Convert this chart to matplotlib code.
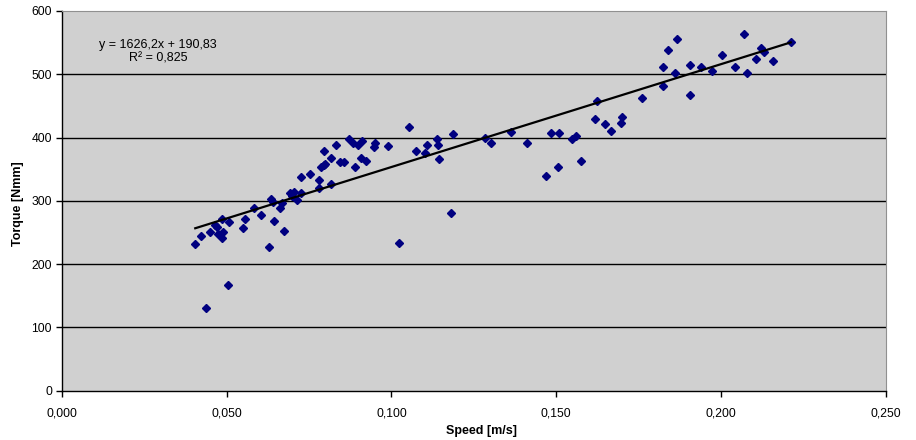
import matplotlib
matplotlib.use("Agg")
import matplotlib.pyplot as plt
from matplotlib.ticker import FuncFormatter
import numpy as np

plt.rcParams['font.family'] = ['Liberation Sans', 'DejaVu Sans']

speed = [0.0405, 0.0423, 0.0438, 0.0450, 0.0465, 0.0472, 0.0475, 0.0485, 0.0490, 0.0487,
         0.0508, 0.0505, 0.0549, 0.0557, 0.0583, 0.0603, 0.0628, 0.0634, 0.0640, 0.0645,
         0.0662, 0.0667, 0.0674, 0.0692, 0.0705, 0.0699, 0.0714, 0.0726, 0.0726, 0.0753,
         0.0781, 0.0781, 0.0817, 0.0787, 0.0795, 0.0800, 0.0797, 0.0816, 0.0844, 0.0857,
         0.0889, 0.1052, 0.0872, 0.0884, 0.0899, 0.0910, 0.0831, 0.0949, 0.0947, 0.0991,
         0.0908, 0.0923, 0.1076, 0.1102, 0.1107, 0.1137, 0.1140, 0.1145, 0.1186, 0.1182,
         0.1023, 0.1283, 0.1302, 0.1362, 0.1411, 0.1483, 0.1508, 0.1468, 0.1505, 0.1548,
         0.1561, 0.1575, 0.1617, 0.1625, 0.1647, 0.1665, 0.1699, 0.1697, 0.1759, 0.1824,
         0.1824, 0.1839, 0.1865, 0.1860, 0.1906, 0.1906, 0.1938, 0.1971, 0.2002, 0.2041,
         0.2069, 0.2077, 0.2105, 0.2122, 0.2129, 0.2158, 0.2211]
torque = [232, 244, 130, 250, 262, 258, 247, 241, 251, 271,
          266, 167, 257, 272, 288, 278, 227, 303, 298, 268,
          289, 296, 252, 312, 314, 307, 301, 312, 338, 342,
          320, 333, 326, 354, 356, 358, 378, 367, 361, 362,
          353, 416, 397, 391, 389, 394, 388, 392, 385, 386,
          367, 363, 378, 376, 388, 398, 389, 366, 405, 281,
          234, 400, 391, 409, 392, 407, 408, 339, 353, 398,
          402, 363, 429, 457, 421, 410, 433, 423, 463, 481,
          511, 539, 556, 502, 515, 468, 511, 505, 530, 512,
          563, 502, 524, 541, 536, 521, 551]

slope = 1626.2
intercept = 190.83
r2_text = "R² = 0,825"
eq_text = "y = 1626,2x + 190,83"

xticks = [0.0, 0.05, 0.10, 0.15, 0.20, 0.25]
yticks = [0, 100, 200, 300, 400, 500, 600]

fig = plt.figure(figsize=(9.16, 4.40), dpi=100)
ax = fig.add_axes([61.7/916, 1 - 390.7/440, (886 - 61.7)/916, (390.7 - 11)/440])
ax.set_facecolor('#D0D0D0')

ax.set_xlim(0, 0.25)
ax.set_ylim(0, 600)
ax.set_xticks(xticks)
ax.set_yticks(yticks)
ax.xaxis.set_major_formatter(FuncFormatter(lambda v, p: f"{v:.3f}".replace('.', ',')))
ax.yaxis.set_major_formatter(FuncFormatter(lambda v, p: f"{v:.0f}"))

for yv in yticks[1:-1]:
    ax.axhline(yv, color='black', lw=1.0, zorder=1)

ax.plot(speed, torque, linestyle='none', marker='D', markersize=4.2,
        color='#000080', markeredgecolor='#000080', zorder=3)

xs = np.array([min(speed), max(speed)])
ax.plot(xs, slope * xs + intercept, color='black', lw=1.6, zorder=4)

ax.text(0.117, 0.893, eq_text + "\n" + r2_text, transform=ax.transAxes,
        ha='center', va='center', fontsize=9, linespacing=1.1)

for s in ['top', 'right']:
    ax.spines[s].set_color('#909090')
for s in ['left', 'bottom']:
    ax.spines[s].set_color('black')
    ax.spines[s].set_linewidth(1.0)

ax.tick_params(axis='both', direction='out', length=4, width=1, labelsize=8.7,
               colors='black', pad=3)
ax.tick_params(axis='x', pad=8)
ax.set_xlabel('Speed [m/s]', fontsize=9, fontweight='bold', va='center')
ax.set_ylabel('Torque [Nmm]', fontsize=9, fontweight='bold', va='center')
ax.xaxis.set_label_coords((482 - 61.7) / 824.3, (390.7 - 431) / 379.7)
ax.yaxis.set_label_coords((18 - 61.7) / 824.3, (390.7 - 204) / 379.7)

fig.savefig('out.png', dpi=100, facecolor='white')
